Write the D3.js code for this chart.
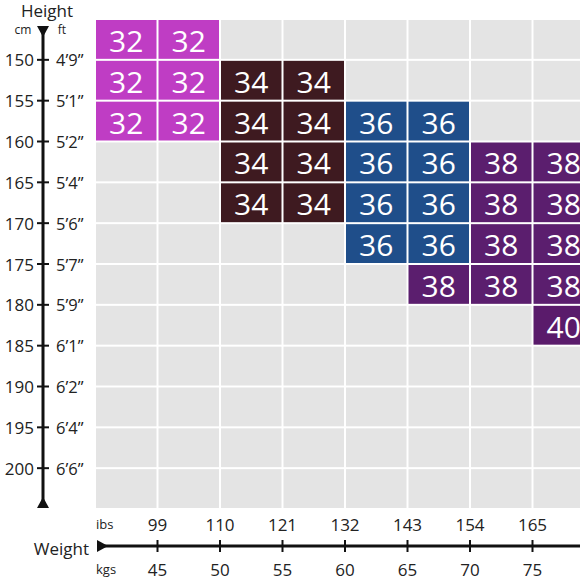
<!DOCTYPE html>
<html><head><meta charset="utf-8">
<script src="https://cdn.jsdelivr.net/npm/d3@7"></script>
<style>body{margin:0;background:#fff;}svg{display:block;font-family:"Open Sans",sans-serif;}</style>
</head><body><svg id="c" width="580" height="580"></svg>
<script>
// Height rows (lower bound, cm) and weight columns (lower bound, kg)
const heightRows = [145,150,155,160,165,170,175,180,185,190,195,200];
const weightCols = [40,45,50,55,60,65,70,75];
// Size per cell: rows = heightRows, columns = weightCols (null = empty)
const sizeGrid = [
  [32,32,null,null,null,null,null,null],
  [32,32,34,34,null,null,null,null],
  [32,32,34,34,36,36,null,null],
  [null,null,34,34,36,36,38,38],
  [null,null,34,34,36,36,38,38],
  [null,null,null,null,36,36,38,38],
  [null,null,null,null,null,38,38,38],
  [null,null,null,null,null,null,null,40],
  [null,null,null,null,null,null,null,null],
  [null,null,null,null,null,null,null,null],
  [null,null,null,null,null,null,null,null],
  [null,null,null,null,null,null,null,null]
];
const cmTicks = [150,155,160,165,170,175,180,185,190,195,200];
const ftLabels = ["4\u20199\u201D","5\u20191\u201D","5\u20192\u201D","5\u20194\u201D","5\u20196\u201D","5\u20197\u201D","5\u20199\u201D","6\u20191\u201D","6\u20192\u201D","6\u20194\u201D","6\u20196\u201D"];
const kgTicks = [45,50,55,60,65,70,75];
const lbsLabels = ["99","110","121","132","143","154","165"];
const sizeColors = {32:"#bf3dc4",34:"#3e1a20",36:"#1f4e8a",38:"#5b1e6e",40:"#5a1b6b"};

const svg = d3.select("#c");
const x = d3.scaleLinear().domain([40,80]).range([95,595]);
const y = d3.scaleLinear().domain([145,205]).range([19,509]);
const step = 5;

// cells
const cells = [];
heightRows.forEach((h,i)=>weightCols.forEach((w,j)=>cells.push({h,w,s:sizeGrid[i][j]})));
const g = svg.append("g");
g.selectAll("rect").data(cells).join("rect")
  .attr("x",d=>x(d.w)+1).attr("y",d=>y(d.h)+1)
  .attr("width",d=>x(d.w+step)-x(d.w)-2).attr("height",d=>y(d.h+step)-y(d.h)-2)
  .attr("fill",d=>d.s?sizeColors[d.s]:"#e4e4e4");
g.selectAll("text").data(cells.filter(d=>d.s)).join("text")
  .attr("x",d=>(x(d.w)+x(d.w+step))/2).attr("y",d=>(y(d.h)+y(d.h+step))/2+1)
  .attr("text-anchor","middle").attr("dominant-baseline","central")
  .attr("fill","#fff").attr("font-size",30).text(d=>d.s);

// left axis
const ax = 43;
svg.append("line").attr("x1",ax).attr("x2",ax).attr("y1",28).attr("y2",503)
  .attr("stroke","#111").attr("stroke-width",3);
svg.append("path").attr("d",`M${ax-6},26 L${ax+6},26 L${ax},37 Z`).attr("fill","#111");
svg.append("path").attr("d",`M${ax-6},508 L${ax+6},508 L${ax},497 Z`).attr("fill","#111");
const la = svg.append("g");
la.selectAll("line").data(cmTicks).join("line")
  .attr("x1",ax-6).attr("x2",ax+6).attr("y1",d=>y(d)).attr("y2",d=>y(d))
  .attr("stroke","#111").attr("stroke-width",2);
la.selectAll("text.cm").data(cmTicks).join("text").attr("class","cm")
  .attr("x",34).attr("y",d=>y(d)).attr("text-anchor","end").attr("dominant-baseline","central")
  .attr("font-size",17).attr("fill","#222").text(d=>d);
la.selectAll("text.ft").data(cmTicks).join("text").attr("class","ft")
  .attr("x",56).attr("y",d=>y(d)).attr("dominant-baseline","central")
  .attr("font-size",16.5).attr("fill","#222").text((d,i)=>ftLabels[i]);
svg.append("text").attr("x",47).attr("y",17).attr("text-anchor","middle")
  .attr("font-size",17).attr("fill","#222").text("Height");
svg.append("text").attr("x",23).attr("y",34).attr("text-anchor","middle")
  .attr("font-size",12).attr("fill","#222").text("cm");
svg.append("text").attr("x",62).attr("y",34).attr("text-anchor","middle")
  .attr("font-size",12).attr("fill","#222").text("ft");

// bottom axis
const ay = 546;
svg.append("line").attr("x1",100).attr("x2",580).attr("y1",ay).attr("y2",ay)
  .attr("stroke","#111").attr("stroke-width",3);
svg.append("path").attr("d",`M97,${ay-6} L97,${ay+6} L108,${ay} Z`).attr("fill","#111");
const ba = svg.append("g");
ba.selectAll("line").data(kgTicks).join("line")
  .attr("x1",d=>x(d)).attr("x2",d=>x(d)).attr("y1",ay-6).attr("y2",ay+6)
  .attr("stroke","#111").attr("stroke-width",2);
ba.selectAll("text.lbs").data(kgTicks).join("text").attr("class","lbs")
  .attr("x",d=>x(d)).attr("y",524).attr("text-anchor","middle").attr("dominant-baseline","central")
  .attr("font-size",17).attr("fill","#222").text((d,i)=>lbsLabels[i]);
ba.selectAll("text.kg").data(kgTicks).join("text").attr("class","kg")
  .attr("x",d=>x(d)).attr("y",569).attr("text-anchor","middle").attr("dominant-baseline","central")
  .attr("font-size",17).attr("fill","#222").text(d=>d);
svg.append("text").attr("x",96).attr("y",524).attr("dominant-baseline","central")
  .attr("font-size",13).attr("fill","#222").text("ibs");
svg.append("text").attr("x",96).attr("y",569).attr("dominant-baseline","central")
  .attr("font-size",13).attr("fill","#222").text("kgs");
svg.append("text").attr("x",89).attr("y",548).attr("text-anchor","end").attr("dominant-baseline","central")
  .attr("font-size",17).attr("fill","#222").text("Weight");
</script></body></html>
